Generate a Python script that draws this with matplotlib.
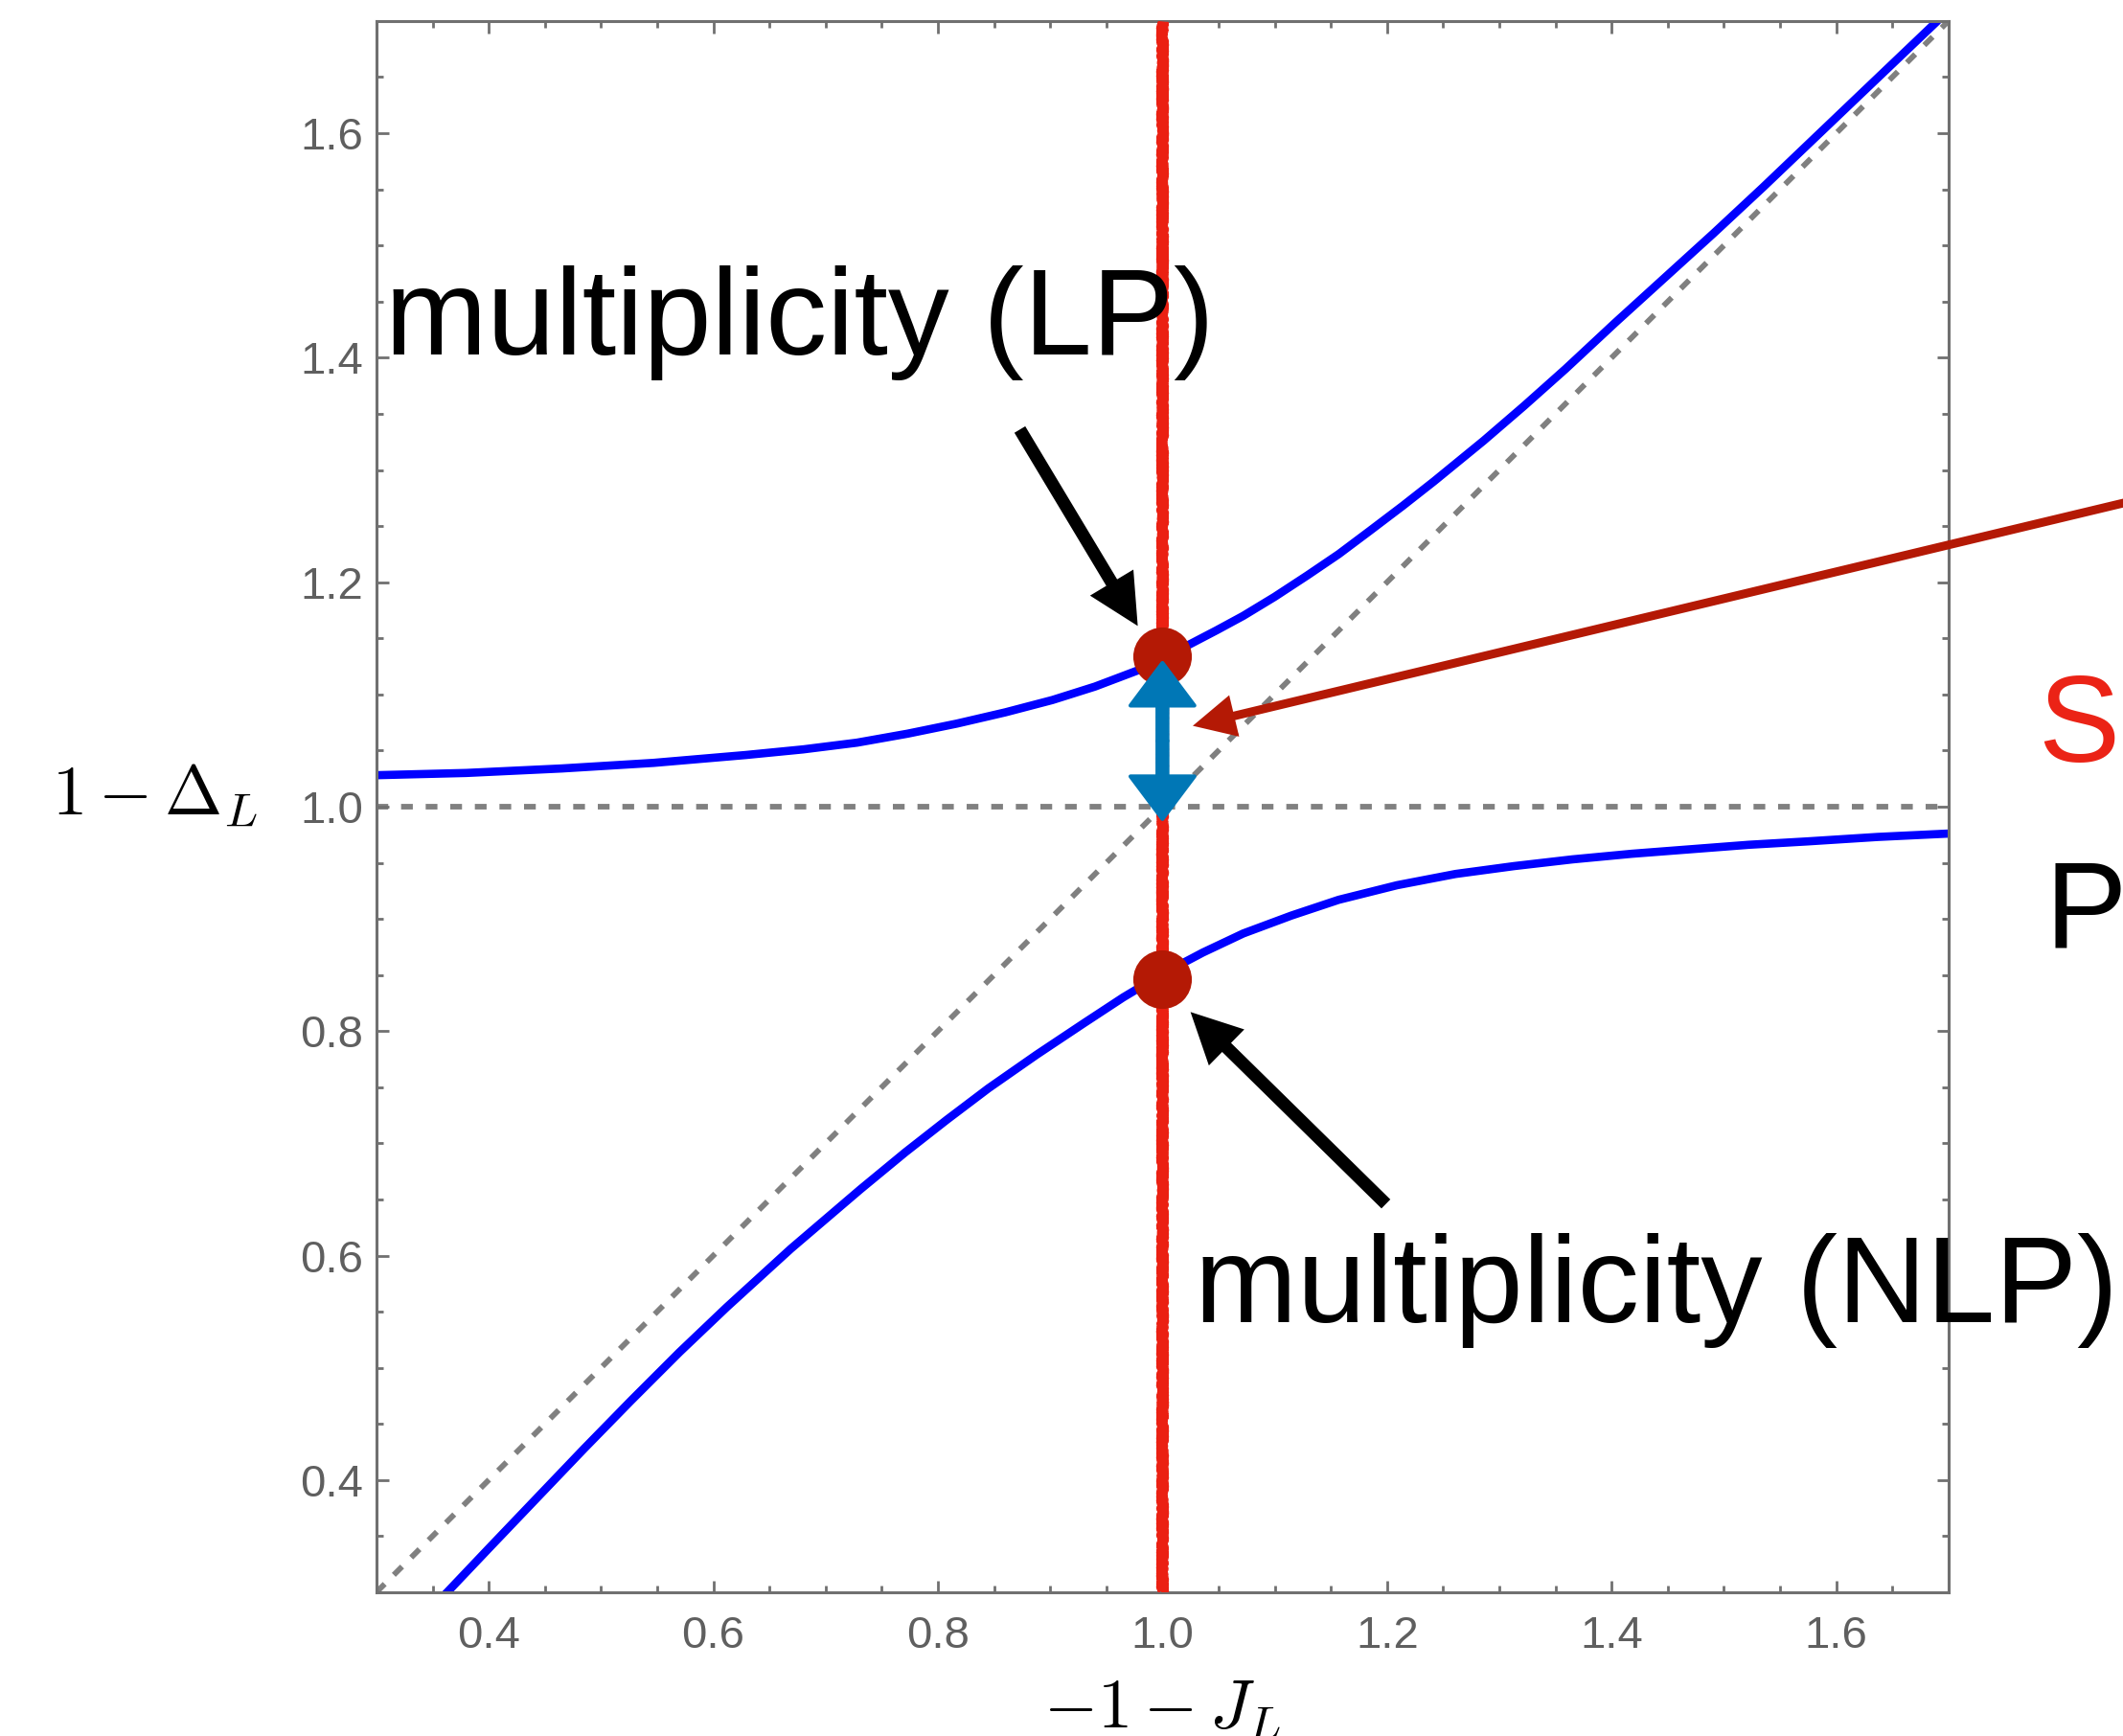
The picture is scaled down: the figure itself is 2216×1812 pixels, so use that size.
import matplotlib.pyplot as plt
from matplotlib.ticker import FixedLocator, MultipleLocator

plt.rcParams['font.family'] = ['Liberation Sans', 'DejaVu Sans']
plt.rcParams['mathtext.fontset'] = 'cm'

# === valori ===
upper_x = [0.300, 0.380, 0.465, 0.547, 0.629, 0.680, 0.728, 0.773, 0.817, 0.860,
           0.902, 0.940, 0.977, 1.000, 1.025, 1.048, 1.072, 1.100, 1.129, 1.157,
           1.185, 1.214, 1.242, 1.286, 1.322, 1.359, 1.403, 1.447, 1.491, 1.535,
           1.579, 1.623, 1.688]
upper_y = [1.028, 1.030, 1.034, 1.039, 1.046, 1.051, 1.057, 1.065, 1.074, 1.084,
           1.095, 1.107, 1.121, 1.132, 1.145, 1.157, 1.170, 1.187, 1.206, 1.225,
           1.246, 1.268, 1.290, 1.326, 1.357, 1.390, 1.431, 1.471, 1.511, 1.552,
           1.594, 1.636, 1.698]

lower_x = [0.363, 0.400, 0.442, 0.485, 0.527, 0.570, 0.612, 0.669, 0.731, 0.771,
           0.808, 0.845, 0.888, 0.930, 0.965, 1.000, 1.036, 1.072, 1.115, 1.157,
           1.209, 1.261, 1.313, 1.365, 1.418, 1.470, 1.522, 1.574, 1.637, 1.700]
lower_y = [0.300, 0.339, 0.383, 0.428, 0.471, 0.514, 0.554, 0.606, 0.659, 0.692,
           0.721, 0.749, 0.779, 0.807, 0.830, 0.851, 0.870, 0.887, 0.903, 0.917,
           0.930, 0.940, 0.947, 0.953, 0.958, 0.962, 0.966, 0.969, 0.973, 0.976]

diag_x = [0.3, 1.7]
diag_y = [0.3, 1.7]
flat_x = [0.3, 1.7]
flat_y = [1.0, 1.0]

pole_x = [1.0, 1.0]
pole_y = [0.3, 1.7]

dot_x = [1.0, 1.0]
dot_y = [1.134, 0.846]

gap_x = 1.0
gap_y = [0.989, 1.128]

tick_vals = [0.4, 0.6, 0.8, 1.0, 1.2, 1.4, 1.6]
tick_labels = ['0.4', '0.6', '0.8', '1.0', '1.2', '1.4', '1.6']

# === figura ===
fig = plt.figure(figsize=(22.16, 18.12), dpi=100)
ax = fig.add_axes([0.1773, 0.0828, 0.7405, 0.9051])
ax.set_xlim(0.3, 1.7)
ax.set_ylim(0.3, 1.7)

gray = '#808080'
ax.plot(flat_x, flat_y, color=gray, lw=4.2, dashes=(2.1, 2.3), dash_capstyle='butt', zorder=1)
ax.plot(diag_x, diag_y, color=gray, lw=4.2, dashes=(2.1, 2.3), dash_capstyle='butt', zorder=1)

ax.plot(upper_x, upper_y, color='#0000FF', lw=6.2, solid_joinstyle='round', zorder=2)
ax.plot(lower_x, lower_y, color='#0000FF', lw=6.2, solid_joinstyle='round', zorder=2)

pole, = ax.plot(pole_x, pole_y, color='#EB2012', lw=8.0, solid_capstyle='butt', zorder=3)
pole.set_sketch_params(scale=1.2, length=3, randomness=4)

ax.plot(dot_x, dot_y, 'o', color='#B41905', markersize=44, markeredgewidth=0, zorder=4)

# frecce nere
black = dict(width=9.5, headwidth=38, headlength=38, facecolor='black',
             edgecolor='none', shrink=0)
ax.annotate('', xy=(0.978, 1.161), xytext=(0.873, 1.336), arrowprops=black, zorder=5)
ax.annotate('', xy=(1.025, 0.817), xytext=(1.199, 0.646), arrowprops=black, zorder=5)

# freccia rossa che entra da destra
ax.annotate('', xy=(1.027, 1.072), xytext=(2.1, 1.329),
            arrowprops=dict(width=6.5, headwidth=32, headlength=32, facecolor='#B41905',
                            edgecolor='none', shrink=0),
            annotation_clip=False, zorder=5)

# freccia doppia blu
mid = (gap_y[0] + gap_y[1]) / 2
blue = dict(width=7.5, headwidth=48, headlength=32, facecolor='#0077B6',
            edgecolor='#0077B6', lw=3, joinstyle='round', shrink=0)
ax.annotate('', xy=(gap_x, gap_y[1]), xytext=(gap_x, mid), arrowprops=blue, zorder=6)
ax.annotate('', xy=(gap_x, gap_y[0]), xytext=(gap_x, mid), arrowprops=blue, zorder=6)

# testi
ax.text(0.3077, 1.403, 'multiplicity (LP)', fontsize=92, color='black', zorder=7)
ax.text(1.029, 0.5404, 'multiplicity (NLP)', fontsize=92.5, color='black', zorder=7)
fig.text(0.9598, 0.5613, 'S', fontsize=92, color='#EB2316')
fig.text(0.9634, 0.4542, 'P', fontsize=92, color='black')

# assi
ax.xaxis.set_major_locator(FixedLocator(tick_vals))
ax.yaxis.set_major_locator(FixedLocator(tick_vals))
ax.set_xticklabels(tick_labels)
ax.set_yticklabels(tick_labels)
ax.xaxis.set_minor_locator(MultipleLocator(0.05))
ax.yaxis.set_minor_locator(MultipleLocator(0.05))
ax.tick_params(which='both', direction='in', top=True, right=True,
               color='#707070', width=2.0, labelcolor='#5F5F5F', labelsize=34)
ax.tick_params(which='major', length=9)
ax.tick_params(which='minor', length=5)
ax.tick_params(axis='x', pad=17)
ax.tick_params(axis='y', pad=10)
for s in ax.spines.values():
    s.set_color('#707070')
    s.set_linewidth(2.2)

ax.set_ylabel(r'$1-\Delta_L$', rotation=0, fontsize=52, ha='right', va='center')
ax.yaxis.set_label_coords(-0.075, 0.507)
ax.set_xlabel(r'$-1-J_L$', fontsize=52, va='baseline')
ax.xaxis.set_label_coords(0.5, -0.086)

fig.savefig('out.png', dpi=100)
